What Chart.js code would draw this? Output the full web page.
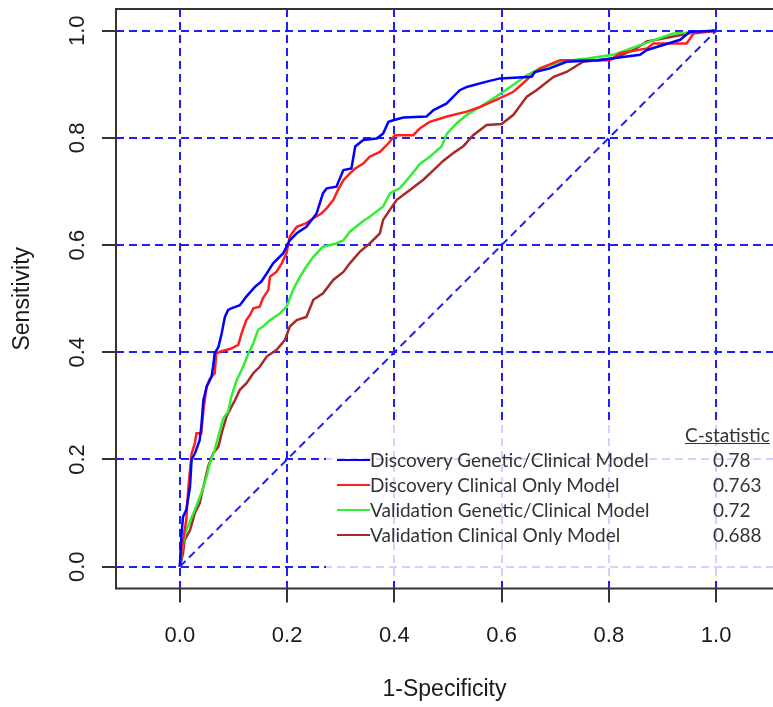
<!DOCTYPE html>
<html>
<head>
<meta charset="utf-8">
<script src="https://cdn.jsdelivr.net/npm/chart.js@4/dist/chart.umd.min.js"></script>
<style>
    body { margin: 0; background: #fff; }
    #wrap { position: relative; width: 773px; height: 707px; overflow: hidden; }
    #legendBox {
        position: absolute; left: 326px; top: 423px; width: 447px; height: 157px;
        background: rgba(255, 255, 255, 0.8);
        font-family: Lato, 'Noto Sans', sans-serif; font-size: 19px; color: #333;
    }
    .row { position: absolute; height: 24px; line-height: 24px; white-space: nowrap; }
    .swatch { position: absolute; left: 11px; width: 33px; height: 0; border-top: 2px solid; }
</style>
</head>
<body>
<div id="wrap">
    <canvas id="rocChart" width="773" height="707"></canvas>
    <div id="legendBox"></div>
</div>
<script>
// series names and c-statistics
const seriesNames = ['Discovery Genetic/Clinical Model', 'Discovery Clinical Only Model',
    'Validation Genetic/Clinical Model', 'Validation Clinical Only Model'];
const cStatistics = ['0.78', '0.763', '0.72', '0.688'];

// 1-specificity / sensitivity
const discGenX = [0, 0.003, 0.006, 0.012, 0.019, 0.022, 0.028, 0.037, 0.040, 0.044, 0.050, 0.059, 0.062, 0.065,
    0.072, 0.078, 0.084, 0.090, 0.096, 0.112, 0.124, 0.140, 0.152, 0.162, 0.174, 0.193, 0.205, 0.218, 0.236, 0.255,
    0.267, 0.274, 0.292, 0.305, 0.320, 0.327, 0.342, 0.367, 0.379, 0.389, 0.398, 0.417, 0.460, 0.473, 0.497, 0.504,
    0.522, 0.535, 0.572, 0.597, 0.656, 0.662, 0.690, 0.721, 0.780, 0.858, 0.871, 0.933, 0.951, 1];
const discGenY = [0, 0.060, 0.093, 0.106, 0.149, 0.200, 0.211, 0.236, 0.261, 0.311, 0.336, 0.354, 0.373, 0.398,
    0.410, 0.435, 0.466, 0.479, 0.482, 0.488, 0.504, 0.522, 0.532, 0.547, 0.566, 0.585, 0.609, 0.622, 0.634, 0.659,
    0.697, 0.706, 0.709, 0.740, 0.743, 0.784, 0.796, 0.799, 0.808, 0.830, 0.833, 0.838, 0.840, 0.852, 0.864, 0.871,
    0.889, 0.895, 0.905, 0.911, 0.914, 0.923, 0.930, 0.942, 0.945, 0.955, 0.964, 0.983, 0.998, 1];

const discClinX = [0, 0.006, 0.012, 0.016, 0.022, 0.028, 0.031, 0.040, 0.044, 0.050, 0.056, 0.065, 0.068, 0.075,
    0.096, 0.109, 0.115, 0.124, 0.131, 0.137, 0.149, 0.155, 0.165, 0.168, 0.180, 0.190, 0.199, 0.205, 0.218, 0.236,
    0.249, 0.264, 0.274, 0.286, 0.295, 0.305, 0.317, 0.327, 0.342, 0.354, 0.373, 0.389, 0.401, 0.435, 0.448, 0.466,
    0.498, 0.535, 0.560, 0.590, 0.622, 0.640, 0.659, 0.672, 0.709, 0.802, 0.821, 0.871, 0.883, 0.945, 0.958, 1];
const discClinY = [0, 0.050, 0.087, 0.149, 0.211, 0.230, 0.249, 0.249, 0.292, 0.336, 0.351, 0.361, 0.398, 0.401,
    0.407, 0.414, 0.435, 0.460, 0.470, 0.482, 0.485, 0.501, 0.516, 0.541, 0.550, 0.566, 0.585, 0.616, 0.634, 0.641,
    0.650, 0.659, 0.669, 0.684, 0.703, 0.721, 0.734, 0.743, 0.752, 0.765, 0.774, 0.790, 0.805, 0.805, 0.818, 0.830,
    0.840, 0.849, 0.858, 0.871, 0.886, 0.902, 0.920, 0.930, 0.945, 0.945, 0.958, 0.967, 0.976, 0.976, 0.995, 1];

const valGenX = [0, 0.006, 0.012, 0.028, 0.040, 0.050, 0.056, 0.065, 0.075, 0.081, 0.090, 0.096, 0.106, 0.118,
    0.128, 0.137, 0.146, 0.155, 0.168, 0.187, 0.199, 0.211, 0.224, 0.236, 0.249, 0.267, 0.292, 0.305, 0.317, 0.342,
    0.354, 0.379, 0.392, 0.410, 0.429, 0.448, 0.466, 0.488, 0.498, 0.516, 0.535, 0.560, 0.590, 0.622, 0.647, 0.672,
    0.709, 0.759, 0.808, 0.858, 0.920, 1];
const valGenY = [0, 0.044, 0.068, 0.106, 0.137, 0.168, 0.193, 0.218, 0.255, 0.277, 0.289, 0.317, 0.348, 0.373,
    0.398, 0.417, 0.442, 0.448, 0.460, 0.473, 0.485, 0.516, 0.541, 0.560, 0.578, 0.597, 0.603, 0.609, 0.625, 0.645,
    0.653, 0.672, 0.697, 0.706, 0.728, 0.752, 0.765, 0.784, 0.808, 0.827, 0.843, 0.858, 0.877, 0.899, 0.917, 0.930,
    0.942, 0.948, 0.955, 0.973, 0.995, 1];

const valClinX = [0, 0.006, 0.009, 0.019, 0.028, 0.037, 0.044, 0.053, 0.062, 0.072, 0.078, 0.087, 0.093, 0.103,
    0.112, 0.124, 0.137, 0.149, 0.162, 0.180, 0.196, 0.205, 0.218, 0.236, 0.249, 0.267, 0.286, 0.305, 0.317, 0.336,
    0.354, 0.373, 0.379, 0.404, 0.429, 0.454, 0.473, 0.491, 0.510, 0.529, 0.547, 0.572, 0.600, 0.622, 0.647, 0.665,
    0.697, 0.721, 0.752, 0.808, 0.846, 0.871, 0.920, 0.964, 1];
const valClinY = [0, 0.025, 0.050, 0.068, 0.100, 0.118, 0.149, 0.187, 0.211, 0.224, 0.249, 0.280, 0.292, 0.311,
    0.330, 0.342, 0.361, 0.373, 0.392, 0.404, 0.423, 0.448, 0.460, 0.466, 0.498, 0.510, 0.535, 0.550, 0.566, 0.588,
    0.603, 0.622, 0.647, 0.684, 0.703, 0.722, 0.740, 0.757, 0.772, 0.785, 0.805, 0.824, 0.826, 0.843, 0.877, 0.889,
    0.914, 0.923, 0.942, 0.948, 0.964, 0.980, 0.989, 0.998, 1];

const chanceX = [0, 1];
const chanceY = [0, 1];

const xTickValues = [0, 0.2, 0.4, 0.6, 0.8, 1.0];
const xTickLabels = ['0.0', '0.2', '0.4', '0.6', '0.8', '1.0'];
const yTickValues = [0, 0.2, 0.4, 0.6, 0.8, 1.0];
const yTickLabels = ['0.0', '0.2', '0.4', '0.6', '0.8', '1.0'];

const seriesColors = ['#0000ff', '#ff1f1f', '#33ee33', '#a52a2a'];
const gridBlue = 'rgb(30, 30, 255)';

function toPoints(xs, ys) {
    return xs.map((x, i) => ({x: x, y: ys[i]}));
}

const curves = [[discGenX, discGenY], [discClinX, discClinY], [valGenX, valGenY], [valClinX, valClinY]];
const datasets = curves.map((c, i) => ({
    label: seriesNames[i],
    data: toPoints(c[0], c[1]),
    borderColor: seriesColors[i],
    borderWidth: 2.5,
    pointRadius: 0,
    tension: 0,
    fill: false
}));
// reference diagonal
datasets.unshift({
    label: 'chance',
    data: toPoints(chanceX, chanceY),
    borderColor: gridBlue,
    borderWidth: 2,
    borderDash: [8, 5],
    pointRadius: 0,
    fill: false
});

// box around the plot region (right side runs off the page)
const framePlugin = {
    id: 'frame',
    afterDraw(chart) {
        const {ctx, chartArea: a} = chart;
        ctx.save();
        ctx.strokeStyle = '#333';
        ctx.lineWidth = 2;
        ctx.beginPath();
        ctx.moveTo(a.right + 2, a.top);
        ctx.lineTo(a.left, a.top);
        ctx.lineTo(a.left, a.bottom);
        ctx.lineTo(a.right + 2, a.bottom);
        ctx.stroke();
        ctx.restore();
    }
};

const tickFont = {family: "'Liberation Sans', Arial, sans-serif", size: 22};

new Chart(document.getElementById('rocChart'), {
    type: 'line',
    data: {datasets: datasets},
    options: {
        responsive: false,
        animation: false,
        devicePixelRatio: 1,
        layout: {padding: {top: 9, right: 0, left: 0, bottom: 0}},
        plugins: {legend: {display: false}, tooltip: {enabled: false}},
        scales: {
            x: {
                type: 'linear',
                min: -0.119,
                max: 1.106,
                afterBuildTicks: s => { s.ticks = xTickValues.map(v => ({value: v})); },
                afterFit: s => { s.height = 118.5; s.paddingLeft = 0; s.paddingRight = 0; },
                ticks: {
                    font: tickFont, color: '#1a1a1a', padding: 20, maxRotation: 0, autoSkip: false,
                    callback: (v, i) => xTickLabels[i]
                },
                grid: {color: gridBlue, lineWidth: 2, tickColor: '#333', tickWidth: 2, tickLength: 14},
                border: {display: false, dash: [8, 5]},
                title: {
                    display: true, text: '1-Specificity', color: '#1a1a1a',
                    font: {family: "'Liberation Sans', Arial, sans-serif", size: 23},
                    padding: {top: 0, bottom: 4}
                }
            },
            y: {
                type: 'linear',
                min: -0.0407,
                max: 1.0405,
                afterBuildTicks: s => { s.ticks = yTickValues.map(v => ({value: v})); },
                afterFit: s => { s.width = 116; s.paddingTop = 0; s.paddingBottom = 0; },
                ticks: {
                    font: tickFont, color: '#1a1a1a', padding: 9, minRotation: 90, maxRotation: 90,
                    crossAlign: 'center', autoSkip: false,
                    callback: (v, i) => yTickLabels[i]
                },
                grid: {color: gridBlue, lineWidth: 2, tickColor: '#333', tickWidth: 2, tickLength: 14},
                border: {display: false, dash: [8, 5]},
                title: {
                    display: true, text: 'Sensitivity', color: '#1a1a1a',
                    font: {family: "'Liberation Sans', Arial, sans-serif", size: 23},
                    padding: {top: 9, bottom: 0}
                }
            }
        }
    },
    plugins: [framePlugin]
});

// legend with the c-statistic column
const box = document.getElementById('legendBox');
const head = document.createElement('div');
head.className = 'row';
head.style.left = '359px';
head.style.top = '0px';
head.style.textDecoration = 'underline';
head.textContent = 'C-statistic';
box.appendChild(head);

seriesNames.forEach((name, i) => {
    const top = 25 + i * 25;
    const sw = document.createElement('div');
    sw.className = 'swatch';
    sw.style.borderColor = seriesColors[i];
    sw.style.top = (top + 11) + 'px';
    box.appendChild(sw);

    const label = document.createElement('div');
    label.className = 'row';
    label.style.left = '44px';
    label.style.top = top + 'px';
    label.textContent = name;
    box.appendChild(label);

    const val = document.createElement('div');
    val.className = 'row';
    val.style.left = '387px';
    val.style.top = top + 'px';
    val.textContent = cStatistics[i];
    box.appendChild(val);
});
</script>
</body>
</html>
